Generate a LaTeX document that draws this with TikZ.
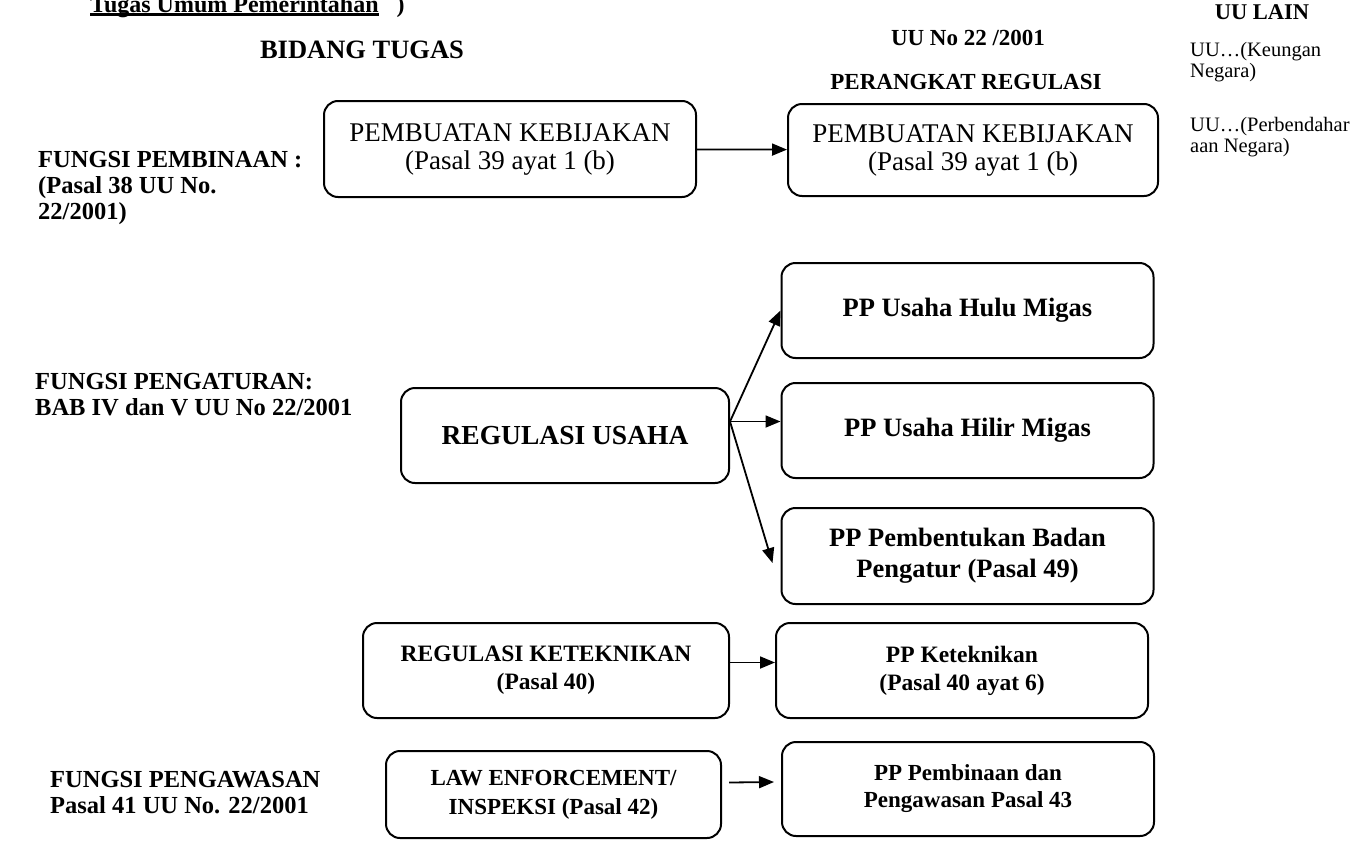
\documentclass[tikz,border=0pt]{standalone}
\usepackage{fontspec}
\setmainfont{Liberation Serif}
\usetikzlibrary{arrows.meta}
\newcommand{\garisbawah}[1]{\setbox0\hbox{#1}\rlap{\rule[-4pt]{\wd0}{3pt}}\box0}
\begin{document}
\begin{tikzpicture}[x=1pt,y=-1pt,
    box/.style={draw,rounded corners=14pt,line width=2pt,align=center,inner sep=0pt},
    arr/.style={-{Triangle[length=15pt,width=12pt]},line width=1.8pt},
    lbl/.style={align=left,inner sep=0pt,font=\fontsize{24.5}{26}\selectfont\bfseries},
    kecil/.style={align=left,inner sep=0pt,font=\fontsize{20.5}{21}\selectfont}]
  \useasboundingbox (0,0) rectangle (1362,846);
  % judul dan kepala kolom
  \node[anchor=base west,inner sep=0pt,font=\fontsize{24}{26}\selectfont\bfseries] (judul) at (90,12) {\garisbawah{Tugas Umum Pemerintahan}\hspace{18pt})};
  \node[font=\fontsize{26.5}{28}\selectfont\bfseries] (bidang) at (362,50) {BIDANG TUGAS};
  \node[font=\fontsize{23}{24}\selectfont\bfseries] (uuno) at (968,38) {UU No 22 /2001};
  \node[font=\fontsize{23}{24}\selectfont\bfseries] (perangkat) at (966,82) {PERANGKAT REGULASI};
  \node[font=\fontsize{22.5}{24}\selectfont\bfseries] (uulain) at (1262,12) {UU LAIN};
  \node[kecil,anchor=west] (keuangan) at (1190,62) {UU…(Keungan\\Negara)};
  \node[kecil,anchor=west] (perbendaharaan) at (1190,137) {UU…(Perbendahar\\aan Negara)};
  % fungsi
  \node[lbl,anchor=west] (pembinaan) at (38,188) {FUNGSI PEMBINAAN :\\(Pasal 38 UU No.\\22/2001)};
  \node[lbl,anchor=west] (pengaturan) at (35,395) {FUNGSI PENGATURAN:\\BAB IV dan V UU No 22/2001};
  \node[lbl,anchor=west] (pengawasan) at (50,793) {FUNGSI PENGAWASAN\\Pasal 41 UU No. 22/2001};
  % kotak
  \node[box,font=\fontsize{27}{28}\selectfont,minimum width=372pt,minimum height=96pt] (kebijakan) at (510,149) {PEMBUATAN KEBIJAKAN\\(Pasal 39 ayat 1 (b)};
  \node[box,font=\fontsize{27}{28}\selectfont,minimum width=370pt,minimum height=92pt] (ppkebijakan) at (973,150) {PEMBUATAN KEBIJAKAN\\(Pasal 39 ayat 1 (b)};
  \node[box,font=\fontsize{27.5}{28}\selectfont\bfseries,minimum width=328pt,minimum height=95pt] (usaha) at (565,435.5) {REGULASI USAHA};
  \node[box,font=\fontsize{26.5}{28}\selectfont\bfseries,minimum width=372pt,minimum height=95pt] (hulu) at (967.5,310.5) {PP Usaha Hulu Migas};
  \node[box,font=\fontsize{26.5}{28}\selectfont\bfseries,minimum width=372pt,minimum height=95pt] (hilir) at (967.5,430.5) {PP Usaha Hilir Migas};
  \node[box,font=\fontsize{26.5}{31}\selectfont\bfseries,minimum width=372pt,minimum height=96pt] (badan) at (967.5,556) {PP Pembentukan Badan\\Pengatur (Pasal 49)};
  \node[box,font=\fontsize{23.5}{28}\selectfont\bfseries,minimum width=366pt,minimum height=95pt] (teknik) at (546,670.5) {REGULASI KETEKNIKAN\\(Pasal 40)};
  \node[box,font=\fontsize{23.5}{28}\selectfont\bfseries,minimum width=372pt,minimum height=95pt] (ppteknik) at (962,670.5) {PP Keteknikan\\(Pasal 40 ayat 6)};
  \node[box,font=\fontsize{23}{29}\selectfont\bfseries,minimum width=335pt,minimum height=87pt] (law) at (553.5,794.5) {LAW ENFORCEMENT/\\INSPEKSI (Pasal 42)};
  \node[box,font=\fontsize{23}{27}\selectfont\bfseries,minimum width=372pt,minimum height=94pt] (ppbina) at (968,789) {PP Pembinaan dan\\Pengawasan Pasal 43};
  % panah
  \coordinate (cabang) at ([yshift=14pt]usaha.east);
  \draw[arr] (kebijakan) -- (ppkebijakan);
  \draw[arr] (cabang) -- (hulu.west);
  \draw[arr] (cabang) -- (cabang -| hilir.west);
  \draw[arr] (cabang) -- ([xshift=-8pt,yshift=-7pt]badan.west);
  \draw[arr] ([yshift=8pt]teknik.east) -- ([yshift=8pt]ppteknik.west);
  \draw[arr] ([shift={(7pt,12pt)}]law.east) -- ([shift={(-7pt,7pt)}]ppbina.west);
\end{tikzpicture}
\end{document}
